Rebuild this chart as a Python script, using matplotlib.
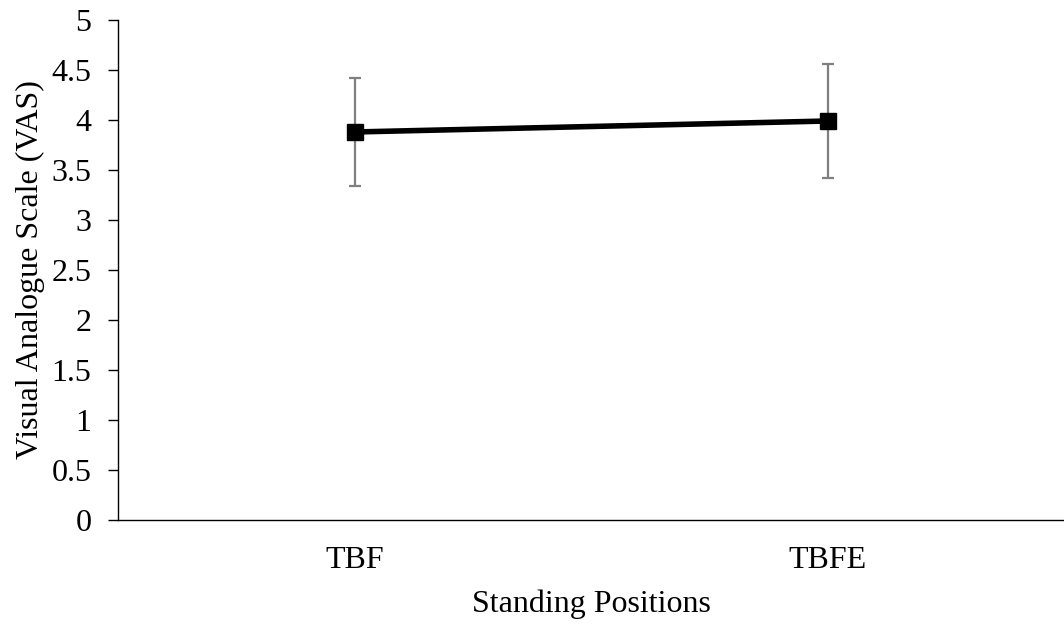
import matplotlib
matplotlib.use('Agg')
import matplotlib.pyplot as plt

# data
positions = ['TBF', 'TBFE']
vas_mean = [3.88, 3.99]
vas_err = [0.54, 0.57]

plt.rcParams['font.family'] = ['Liberation Serif', 'DejaVu Serif']

fig = plt.figure(figsize=(10.64, 6.28), dpi=100)
ax = fig.add_axes([118/1064, 1 - 520/628, 1 - 118/1064, 500/628])

x = [0, 1]
ax.errorbar(x, vas_mean, yerr=vas_err, fmt='none', ecolor='#7f7f7f',
            elinewidth=1.6, capsize=4.6, capthick=1.6, zorder=2)
ax.plot(x, vas_mean, color='black', linewidth=4, marker='s',
        markersize=11, zorder=3)

ax.set_xlim(-0.5, 1.5)
ax.set_ylim(0, 5)
ax.set_yticks([0, 0.5, 1, 1.5, 2, 2.5, 3, 3.5, 4, 4.5, 5])
ax.set_yticklabels(['0', '0.5', '1', '1.5', '2', '2.5', '3', '3.5', '4', '4.5', '5'])
ax.set_xticks(x)
ax.set_xticklabels(positions)

ax.spines['top'].set_visible(False)
ax.spines['right'].set_visible(False)
ax.spines['left'].set_linewidth(1)
ax.spines['bottom'].set_linewidth(1)
ax.tick_params(axis='y', direction='out', length=7, width=1, labelsize=23, pad=12)
ax.tick_params(axis='x', length=0, labelsize=23, pad=18.5)

ax.set_xlabel('Standing Positions', fontsize=23, labelpad=11)
ax.set_ylabel('Visual Analogue Scale (VAS)', fontsize=23, labelpad=5)

fig.savefig('out.png', dpi=100)
